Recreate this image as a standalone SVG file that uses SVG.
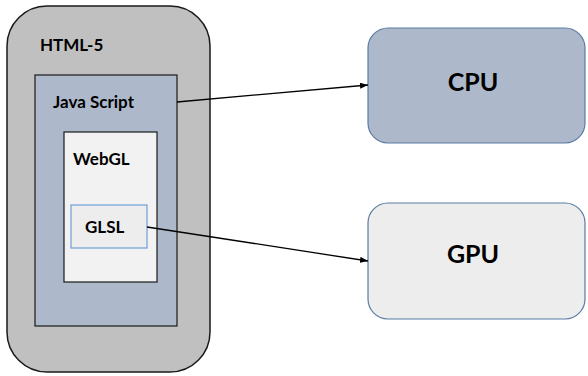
<svg xmlns="http://www.w3.org/2000/svg" width="588" height="376" viewBox="0 0 588 376">
<defs>
<marker id="arr" markerWidth="8" markerHeight="6" refX="8" refY="3" orient="auto" markerUnits="userSpaceOnUse">
<path d="M0,0 L8,3 L0,6 z" fill="#000"/>
</marker>
</defs>
<style>
text{font-family:Lato,"Open Sans","Liberation Sans",sans-serif;font-weight:bold;fill:#000}
.s{font-size:17px}
.b{font-size:25px}
.con{stroke:#000;stroke-width:1.3;fill:none}
</style>
<rect width="588" height="376" fill="#fff"/>
<g id="html5">
<rect x="7" y="6" width="203" height="366" rx="40" ry="40" fill="#c0c0c0" stroke="#1a1a1a" stroke-width="1.5"/>
<text class="s" x="40" y="51">HTML-5</text>
</g>
<g id="javascript">
<rect x="35" y="75" width="142" height="251" fill="#adb9ca" stroke="#1a1a1a" stroke-width="1.2"/>
<text class="s" x="53" y="108">Java Script</text>
</g>
<g id="webgl">
<rect x="64" y="132" width="93" height="150" fill="#f2f2f2" stroke="#1a1a1a" stroke-width="1.2"/>
<text class="s" x="73" y="165">WebGL</text>
</g>
<g id="glsl">
<rect x="71" y="205" width="76" height="43" fill="#ededed" stroke="#6f9fd8" stroke-width="1.2"/>
<text class="s" x="85" y="233">GLSL</text>
</g>
<g id="cpu">
<rect x="368" y="28" width="217" height="115" rx="20" ry="20" fill="#adb9ca" stroke="#5a7ba3" stroke-width="1.2"/>
<text class="b" x="473" y="91" text-anchor="middle">CPU</text>
</g>
<g id="gpu">
<rect x="368" y="203" width="217" height="116" rx="20" ry="20" fill="#ededed" stroke="#5a7ba3" stroke-width="1.2"/>
<text class="b" x="473" y="263" text-anchor="middle">GPU</text>
</g>
<g id="connectors">
<line class="con" x1="177" y1="102" x2="368" y2="85" marker-end="url(#arr)"/>
<line class="con" x1="147" y1="227" x2="368" y2="261" marker-end="url(#arr)"/>
</g>
</svg>
